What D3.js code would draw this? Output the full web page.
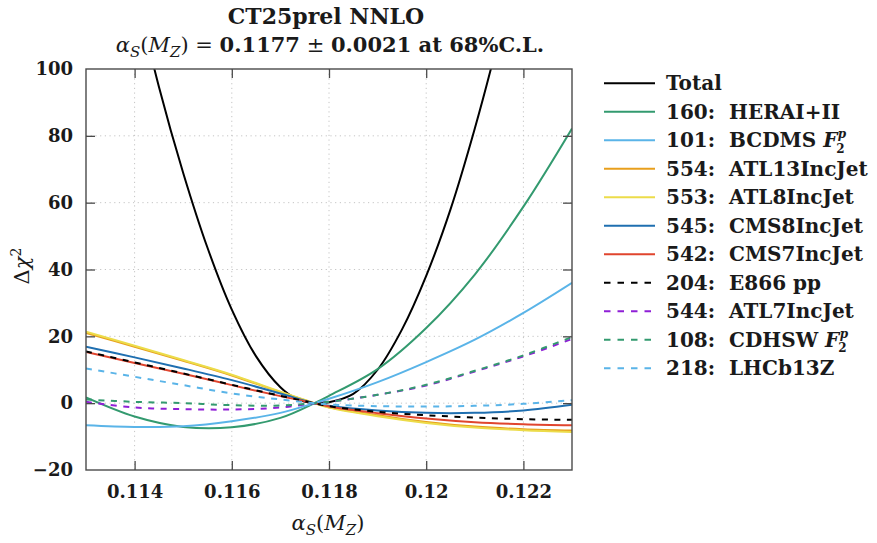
<!DOCTYPE html>
<html>
<head>
<meta charset="utf-8">
<script src="https://cdn.jsdelivr.net/npm/d3@7"></script>
<style>
  html, body { margin: 0; padding: 0; background: #fff; }
  svg { display: block; }
</style>
</head>
<body>
<svg id="chart" width="877" height="543"></svg>
<script>
// alpha_s(M_Z) sample points shared by the individual data sets
const alphaS = [0.113, 0.114, 0.115, 0.116, 0.117, 0.1177, 0.118, 0.119, 0.120, 0.121, 0.122, 0.123];
// finer sampling for the total
const totalAlpha = [0.1135, 0.114, 0.1145, 0.115, 0.1155, 0.116, 0.1165, 0.117, 0.1173, 0.1177,
                    0.118, 0.1185, 0.119, 0.1195, 0.120, 0.1205, 0.121, 0.1215, 0.122];

// Delta chi^2 profiles
const total     = [159, 125, 94.7, 68.9, 46.5, 28.0, 14.0, 4.75, 1.55, 0, 0.3, 2.8, 10.0, 22.0, 38.1, 58.0, 82.2, 109.7, 140.5];
const hera160   = [1.7, -4.0, -7.1, -7.2, -4.4, 0, 2.2, 10.2, 22.5, 38.5, 58.8, 82.2];
const bcdms101  = [-6.6, -7.1, -6.9, -5.4, -2.9, 0, 1.3, 6.3, 12.3, 19.0, 27.0, 36.0];
const atl13_554 = [21.0, 16.9, 12.7, 8.3, 3.3, 0, -1.2, -3.6, -5.6, -7.0, -7.8, -8.2];
const atl8_553  = [21.4, 17.2, 12.9, 8.5, 3.4, 0, -1.3, -3.9, -5.9, -7.3, -8.1, -8.6];
const cms8_545  = [16.9, 13.7, 10.4, 6.9, 2.9, 0, -0.8, -2.2, -2.9, -2.9, -2.2, -0.5];
const cms7_542  = [15.3, 12.0, 8.8, 5.4, 2.1, 0, -1.0, -3.0, -4.6, -5.7, -6.3, -6.6];
const e866_204  = [15.5, 12.2, 8.9, 5.5, 2.2, 0, -0.9, -2.6, -3.6, -4.3, -4.8, -5.0];
const atl7_544  = [0.4, -1.3, -1.8, -1.9, -1.3, 0, 0.4, 2.5, 5.3, 9.5, 14.0, 19.2];
const cdhsw108  = [1.1, 0.4, 0.0, -0.6, -0.7, 0, 0.4, 2.5, 5.5, 9.7, 14.3, 19.8];
const lhcb218   = [10.4, 7.9, 5.4, 2.9, 1.1, 0, -0.4, -0.9, -1.0, -0.8, -0.2, 0.9];

// Tick values
const xTicks = [0.114, 0.116, 0.118, 0.12, 0.122];
const xTickLabels = ["0.114", "0.116", "0.118", "0.12", "0.122"];
const yTicks = [-20, 0, 20, 40, 60, 80, 100];
const yTickLabels = ["\u221220", "0", "20", "40", "60", "80", "100"];

// Series table for drawing and the legend
const seriesList = [
  { xs: totalAlpha, values: total, color: "#000000", dashed: false, label: "Total", f2p: false },
  { xs: alphaS, values: hera160,   color: "#339a6f", dashed: false, label: "160:\u00a0 HERAI+II", f2p: false },
  { xs: alphaS, values: bcdms101,  color: "#5ab4e8", dashed: false, label: "101:\u00a0 BCDMS ", f2p: true },
  { xs: alphaS, values: atl13_554, color: "#e89f1c", dashed: false, label: "554:\u00a0 ATL13IncJet", f2p: false },
  { xs: alphaS, values: atl8_553,  color: "#ecdc4a", dashed: false, label: "553:\u00a0 ATL8IncJet", f2p: false },
  { xs: alphaS, values: cms8_545,  color: "#1f6fb0", dashed: false, label: "545:\u00a0 CMS8IncJet", f2p: false },
  { xs: alphaS, values: cms7_542,  color: "#e0452e", dashed: false, label: "542:\u00a0 CMS7IncJet", f2p: false },
  { xs: alphaS, values: e866_204,  color: "#000000", dashed: true,  label: "204:\u00a0 E866 pp", f2p: false },
  { xs: alphaS, values: atl7_544,  color: "#8f1fd6", dashed: true,  label: "544:\u00a0 ATL7IncJet", f2p: false },
  { xs: alphaS, values: cdhsw108,  color: "#339a6f", dashed: true,  label: "108:\u00a0 CDHSW ", f2p: true },
  { xs: alphaS, values: lhcb218,   color: "#5ab4e8", dashed: true,  label: "218:\u00a0 LHCb13Z", f2p: false }
];

const FONT = "'DejaVu Serif', 'Liberation Serif', serif";
const svg = d3.select("#chart");
const plot = { left: 86, right: 572, top: 69, bottom: 470 };

const x = d3.scaleLinear().domain([0.113, 0.123]).range([plot.left, plot.right]);
const y = d3.scaleLinear().domain([-20, 100]).range([plot.bottom, plot.top]);

svg.append("defs").append("clipPath").attr("id", "plotClip")
  .append("rect")
  .attr("x", plot.left).attr("y", plot.top)
  .attr("width", plot.right - plot.left).attr("height", plot.bottom - plot.top);

// Dotted grid
const grid = svg.append("g").attr("stroke", "#c4c4c4").attr("stroke-width", 1)
  .attr("stroke-dasharray", "1.2,3.5");
xTicks.forEach(t => {
  grid.append("line").attr("x1", x(t)).attr("x2", x(t)).attr("y1", plot.top).attr("y2", plot.bottom);
});
yTicks.filter(t => t > -20 && t < 100).forEach(t => {
  grid.append("line").attr("x1", plot.left).attr("x2", plot.right).attr("y1", y(t)).attr("y2", y(t));
});

// Curves
const curves = svg.append("g").attr("clip-path", "url(#plotClip)");
seriesList.forEach(s => {
  const line = d3.line()
    .x((d, i) => x(s.xs[i]))
    .y(d => y(d))
    .curve(d3.curveCatmullRom.alpha(0.5));
  curves.append("path")
    .attr("d", line(s.values))
    .attr("fill", "none")
    .attr("stroke", s.color)
    .attr("stroke-width", 2)
    .attr("stroke-dasharray", s.dashed ? "6,6.5" : null);
});

// Axes: inward ticks on all four sides
const tickLen = 9;
const axisColor = "#4a4a4a";
const axBottom = d3.axisBottom(x).tickValues(xTicks).tickSize(-tickLen).tickFormat((d, i) => xTickLabels[i]).tickPadding(15);
const axTop = d3.axisTop(x).tickValues(xTicks).tickSize(-tickLen).tickFormat("");
const axLeft = d3.axisLeft(y).tickValues(yTicks).tickSize(-tickLen).tickFormat((d, i) => yTickLabels[i]).tickPadding(13);
const axRight = d3.axisRight(y).tickValues(yTicks).tickSize(-tickLen).tickFormat("");

function styleAxis(g) {
  g.attr("font-family", null).attr("font-size", null);
  g.select(".domain").remove();
  g.selectAll(".tick line").attr("stroke", axisColor).attr("stroke-width", 1.3);
  g.selectAll(".tick text")
    .attr("fill", "#1a1a1a")
    .style("font-family", FONT)
    .style("font-weight", "bold")
    .style("font-size", "18px");
}

svg.append("g").attr("transform", `translate(0,${plot.bottom})`).call(axBottom).call(styleAxis);
svg.append("g").attr("transform", `translate(0,${plot.top})`).call(axTop).call(styleAxis);
svg.append("g").attr("transform", `translate(${plot.left},0)`).call(axLeft).call(styleAxis);
svg.append("g").attr("transform", `translate(${plot.right},0)`).call(axRight).call(styleAxis);

// End ticks coincide with the border
svg.selectAll(".tick").filter(d => d === -20 || d === 100).select("line").remove();

// Frame
svg.append("rect")
  .attr("x", plot.left).attr("y", plot.top)
  .attr("width", plot.right - plot.left).attr("height", plot.bottom - plot.top)
  .attr("fill", "none").attr("stroke", axisColor).attr("stroke-width", 1.4);

function txt(parent) {
  return parent.append("text").attr("fill", "#1a1a1a").style("font-family", FONT);
}

// Title
txt(svg)
  .attr("x", 326).attr("y", 24)
  .attr("text-anchor", "middle")
  .style("font-size", "22px").style("font-weight", "bold")
  .text("CT25prel NNLO");

function alphaSMZ(t, small) {
  t.append("tspan").style("font-style", "italic").text("\u03b1");
  t.append("tspan").style("font-style", "italic").style("font-size", small).attr("dy", 5).text("S");
  t.append("tspan").attr("dy", -5).text("(");
  t.append("tspan").style("font-style", "italic").text("M");
  t.append("tspan").style("font-style", "italic").style("font-size", small).attr("dy", 5).text("Z");
  t.append("tspan").attr("dy", -5).text(")");
}

const t2 = txt(svg)
  .attr("x", 330).attr("y", 52)
  .attr("text-anchor", "middle")
  .style("font-size", "21px");
alphaSMZ(t2, "15px");
t2.append("tspan").text(" = ");
t2.append("tspan").style("font-weight", "bold").text("0.1177");
t2.append("tspan").text(" \u00b1 ");
t2.append("tspan").style("font-weight", "bold").text("0.0021 at 68%C.L.");

// Axis titles
const xt = txt(svg)
  .attr("x", 328).attr("y", 530)
  .attr("text-anchor", "middle")
  .style("font-size", "21px");
alphaSMZ(xt, "15px");

const yt = txt(svg)
  .attr("transform", "translate(29,266) rotate(-90)")
  .attr("text-anchor", "middle")
  .style("font-size", "21px");
yt.append("tspan").text("\u0394");
yt.append("tspan").style("font-style", "italic").text("\u03c7");
yt.append("tspan").style("font-size", "14px").attr("dy", -8).text("2");

// Legend
const legend = svg.append("g");
const rowY0 = 83.3, rowStep = 28.5;
seriesList.forEach((s, i) => {
  const ry = rowY0 + i * rowStep;
  legend.append("line")
    .attr("x1", 604).attr("x2", 655).attr("y1", ry).attr("y2", ry)
    .attr("stroke", s.color).attr("stroke-width", 2)
    .attr("stroke-dasharray", s.dashed ? "6.5,7" : null);
  const t = txt(legend)
    .attr("x", 666).attr("y", ry + 7)
    .style("font-size", "20px").style("font-weight", "bold");
  t.append("tspan").text(s.label);
  if (s.f2p) {
    // structure function F with subscript 2 and superscript p
    t.append("tspan").style("font-style", "italic").text("F");
    t.append("tspan").style("font-size", "12px").attr("dy", 5.5).attr("dx", -1).text("2");
    t.append("tspan").style("font-size", "12px").style("font-style", "italic")
      .attr("dy", -14.5).attr("dx", -7).text("p");
  }
});
</script>
</body>
</html>
